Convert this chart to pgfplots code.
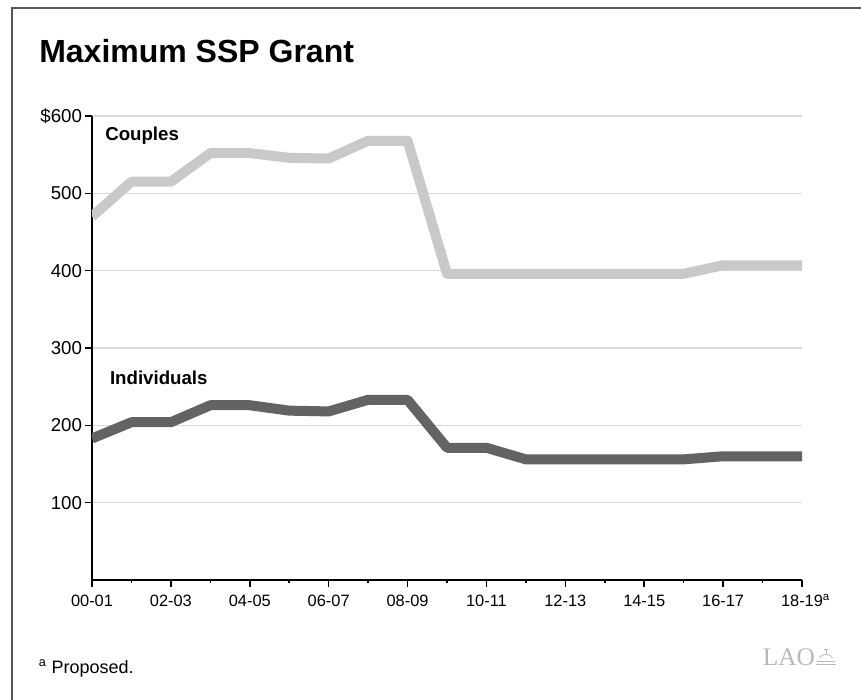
\documentclass[border=0pt]{standalone}
\usepackage{fontspec}
\setmainfont{Liberation Sans}
\newfontfamily\logofont{Liberation Serif}
\usepackage{pgfplots}
\pgfplotsset{compat=1.18}

\definecolor{couplesgray}{HTML}{C8C9CB}
\definecolor{indivgray}{HTML}{626365}
\definecolor{gridgray}{HTML}{DADADA}
\definecolor{framegray}{HTML}{555555}
\definecolor{logogray}{HTML}{B8B8B8}

\begin{document}
\begin{tikzpicture}
% page extent
\useasboundingbox (0,0) rectangle (645.75pt,-525pt);
% panel frame (top and left edges)
\draw[framegray, line width=1.1pt] (9pt,-525pt) -- (9pt,-6pt) -- (645.75pt,-6pt);

% title
\node[anchor=base west, inner sep=0pt, font=\bfseries\fontsize{24}{28}\selectfont]
  at (29.25pt,-46.5pt) {Maximum SSP Grant};

\begin{axis}[
  at={(69pt,-435pt)}, anchor=origin,
  scale only axis, width=532.5pt, height=348pt,
  xmin=0, xmax=18, ymin=0, ymax=600,
  axis x line*=bottom, axis y line*=left,
  axis line style={line width=1.5pt, black},
  xtick={0,2,...,18},
  minor xtick={1,3,...,17},
  xticklabels={00-01,02-03,04-05,06-07,08-09,10-11,12-13,14-15,16-17,18-19\rlap{\textsuperscript{a}}},
  ytick={100,200,...,600},
  yticklabels={100,200,300,400,500,\$600},
  tick align=outside,
  major tick length=5pt, minor tick length=2.5pt,
  tick style={line width=1.2pt, black},
  minor tick style={line width=1.2pt, black},
  ymajorgrids,
  major grid style={gridgray, line width=0.9pt},
  /pgf/number format/assume math mode=true,
  xticklabel style={font=\fontsize{12.3}{14}\selectfont, text height=8.8pt, text depth=0pt, yshift=-2.5pt},
  yticklabel style={font=\fontsize{14}{16}\selectfont, xshift=1pt},
  clip=true,
]
% Couples
\addplot[couplesgray, line width=7.5pt, line join=round] coordinates {
  (0,470) (1,515) (2,515) (3,552) (4,552) (5,546) (6,545) (7,568) (8,568)
  (9,396) (10,396) (11,396) (12,396) (13,396) (14,396) (15,396)
  (16,407) (17,407) (18,407)
};
% Individuals
\addplot[indivgray, line width=7.5pt, line join=round] coordinates {
  (0,183) (1,204) (2,204) (3,226) (4,226) (5,219) (6,218) (7,233) (8,233)
  (9,171) (10,171) (11,156) (12,156) (13,156) (14,156) (15,156)
  (16,160) (17,160) (18,160)
};
\node[anchor=west, inner sep=0pt, font=\bfseries\fontsize{14}{16}\selectfont] at (axis cs:0.33,574) {Couples};
\node[anchor=west, inner sep=0pt, font=\bfseries\fontsize{14}{16}\selectfont] at (axis cs:0.45,262) {Individuals};
\end{axis}

% footnote
\node[anchor=base west, inner sep=0pt, font=\fontsize{13.5}{15}\selectfont]
  at (29pt,-504.75pt) {\textsuperscript{a} Proposed.};

% LAO mark
\node[anchor=base west, inner sep=0pt, text=logogray, font=\logofont\fontsize{19}{22}\selectfont]
  at (572pt,-498.75pt) {LAO};
\begin{scope}[logogray, line width=0.6pt]
  \draw (612pt,-498.5pt) -- (627pt,-498.5pt);
  \draw (613pt,-496pt) -- (626pt,-496pt);
  \draw (614.5pt,-493.5pt) .. controls (616pt,-490pt) and (623pt,-490pt) .. (624.5pt,-493.5pt);
  \draw (619.5pt,-490.5pt) -- (619.5pt,-487pt);
  \draw (618pt,-487pt) -- (621pt,-487pt);
\end{scope}
\end{tikzpicture}
\end{document}
